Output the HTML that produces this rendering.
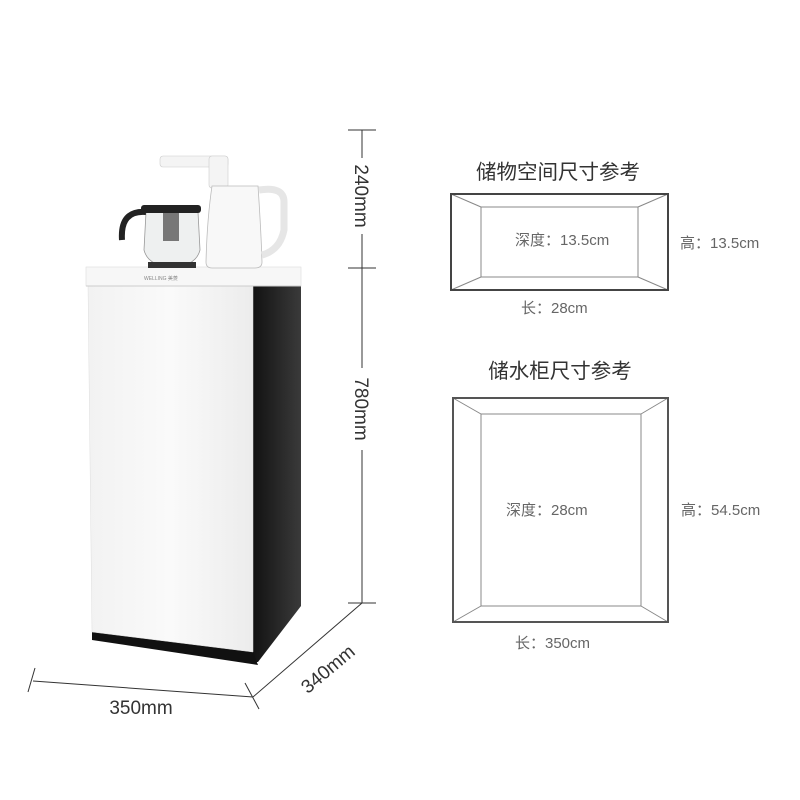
<!DOCTYPE html>
<html><head><meta charset="utf-8"><style>
html,body{margin:0;padding:0;background:#fff;width:800px;height:800px;overflow:hidden}
svg{display:block}
text{font-family:"Liberation Sans","Noto Sans CJK SC",sans-serif}
</style></head><body>
<svg width="800" height="800" viewBox="0 0 800 800" xmlns="http://www.w3.org/2000/svg">
<defs>
<linearGradient id="side" x1="0" x2="1"><stop offset="0" stop-color="#111"/><stop offset="0.6" stop-color="#2a2a2a"/><stop offset="1" stop-color="#3a3a3a"/></linearGradient>
<linearGradient id="front" x1="0" x2="1"><stop offset="0" stop-color="#f2f2f2"/><stop offset="0.5" stop-color="#fafafa"/><stop offset="1" stop-color="#ececec"/></linearGradient>
</defs>
<polygon points="252,285 301,285 301,606 258,662 252,662" fill="url(#side)"/>
<polygon points="92,630 252,650 258,665 92,640" fill="#111"/>
<polygon points="88,285 253,285 253,652 92,632" fill="url(#front)" stroke="#ddd" stroke-width="0.5"/>
<rect x="86" y="267" width="215" height="19" fill="#f7f7f7" stroke="#ddd" stroke-width="0.6"/>
<line x1="86" y1="286" x2="301" y2="286" stroke="#ccc"/>
<text x="144" y="280" font-size="5" fill="#888">WELLING 美菱</text>
<rect x="160" y="156" width="68" height="11" rx="3" fill="#f4f4f4" stroke="#ccc" stroke-width="0.6"/>
<rect x="209" y="156" width="19" height="32" rx="3" fill="#f4f4f4" stroke="#ccc" stroke-width="0.6"/>
<path d="M212,186 L258,186 Q261,230 262,262 Q262,268 255,268 L212,268 Q206,268 206,262 Q207,220 212,186 Z" fill="#f8f8f8" stroke="#bbb" stroke-width="0.8"/>
<path d="M259,190 Q284,186 284,202 L284,230 Q280,250 262,255" fill="none" stroke="#e6e6e6" stroke-width="7"/>
<path d="M146,212 L198,212 L200,250 Q196,266 172,267 Q148,266 144,250 Z" fill="#eef0f0" stroke="#999" stroke-width="0.8"/>
<rect x="141" y="205" width="60" height="8" rx="3" fill="#222"/>
<rect x="163" y="213" width="16" height="28" fill="#777"/>
<path d="M146,212 Q120,210 122,240" fill="none" stroke="#222" stroke-width="6"/>
<rect x="148" y="262" width="48" height="6" fill="#333"/>
<g stroke="#333" stroke-width="1" fill="none">
<line x1="362" y1="130" x2="362" y2="603"/>
<line x1="348" y1="130" x2="376" y2="130"/>
<line x1="348" y1="268" x2="376" y2="268"/>
<line x1="348" y1="603" x2="376" y2="603"/>
<line x1="362" y1="603" x2="253" y2="697"/>
<line x1="33" y1="681" x2="253" y2="697"/>
<line x1="35" y1="668" x2="28" y2="692"/>
<line x1="245" y1="683" x2="259" y2="709"/>
</g>
<rect x="352" y="158" width="20" height="76" fill="#fff"/>
<rect x="352" y="368" width="20" height="82" fill="#fff"/>
<text transform="translate(355,196) rotate(90)" text-anchor="middle" font-size="19" fill="#333">240mm</text>
<text transform="translate(355,409) rotate(90)" text-anchor="middle" font-size="19" fill="#333">780mm</text>
<text x="141" y="714" text-anchor="middle" font-size="19" fill="#333">350mm</text>
<text transform="translate(332,674) rotate(-40)" text-anchor="middle" font-size="19" fill="#333">340mm</text>
<g fill="none" stroke="#888" stroke-width="1">
<rect x="481" y="207" width="157" height="70"/>
<line x1="451" y1="194" x2="481" y2="207"/><line x1="668" y1="194" x2="638" y2="207"/>
<line x1="451" y1="290" x2="481" y2="277"/><line x1="668" y1="290" x2="638" y2="277"/>
<rect x="481" y="414" width="160" height="192"/>
<line x1="453" y1="398" x2="481" y2="414"/><line x1="668" y1="398" x2="641" y2="414"/>
<line x1="453" y1="622" x2="481" y2="606"/><line x1="668" y1="622" x2="641" y2="606"/>
</g>
<rect x="451" y="194" width="217" height="96" fill="none" stroke="#444" stroke-width="2"/>
<rect x="453" y="398" width="215" height="224" fill="none" stroke="#555" stroke-width="2"/>
<text x="558" y="179" text-anchor="middle" font-size="20.5" fill="#333">储物空间尺寸参考</text>
<text x="515" y="245" font-size="15" fill="#666">深度：13.5cm</text>
<text x="680" y="248" font-size="15" fill="#666">高：13.5cm</text>
<text x="521" y="313" font-size="15" fill="#666">长：28cm</text>
<text x="560" y="378" text-anchor="middle" font-size="20.5" fill="#333">储水柜尺寸参考</text>
<text x="506" y="515" font-size="15" fill="#666">深度：28cm</text>
<text x="681" y="515" font-size="15" fill="#666">高：54.5cm</text>
<text x="515" y="648" font-size="15" fill="#666">长：350cm</text>
</svg>
</body></html>
